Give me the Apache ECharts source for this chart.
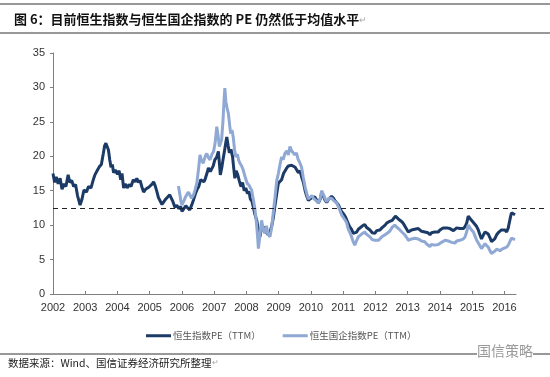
<!DOCTYPE html>
<html>
<head>
<meta charset="utf-8">
<script src="https://cdn.jsdelivr.net/npm/echarts@6/dist/echarts.min.js"></script>
<style>
  html, body { margin: 0; padding: 0; background: #fff; }
  #chart { width: 550px; height: 377px; }
</style>
</head>
<body>
<div id="chart"></div>
<script>
// 恒生指数 PE (TTM)
const hsiYears = [
  2002.00, 2002.05, 2002.10, 2002.16, 2002.22, 2002.28, 2002.34, 2002.40, 2002.47, 2002.52,
  2002.58, 2002.64, 2002.70, 2002.76, 2002.84, 2002.90, 2002.96, 2003.04, 2003.10, 2003.18,
  2003.25, 2003.30, 2003.38, 2003.44, 2003.50, 2003.56, 2003.60, 2003.64, 2003.69, 2003.72,
  2003.76, 2003.80, 2003.84, 2003.88, 2003.93, 2004.00, 2004.05, 2004.10, 2004.14, 2004.19,
  2004.24, 2004.30, 2004.36, 2004.42, 2004.49, 2004.55, 2004.60, 2004.65, 2004.70, 2004.76,
  2004.81, 2004.87, 2004.92, 2004.97, 2005.03, 2005.08, 2005.12, 2005.17, 2005.22, 2005.27,
  2005.32, 2005.38, 2005.44, 2005.50, 2005.56, 2005.62, 2005.67, 2005.72, 2005.78, 2005.84,
  2005.90, 2005.96, 2006.00, 2006.06, 2006.12, 2006.18, 2006.24, 2006.30, 2006.36, 2006.42,
  2006.48, 2006.52, 2006.58, 2006.62, 2006.68, 2006.72, 2006.78, 2006.82, 2006.88, 2006.92,
  2006.97, 2007.02, 2007.07, 2007.13, 2007.16, 2007.19, 2007.24, 2007.28, 2007.32, 2007.36,
  2007.39, 2007.43, 2007.47, 2007.52, 2007.57, 2007.60, 2007.64, 2007.68, 2007.73, 2007.78,
  2007.83, 2007.88, 2007.93, 2007.98, 2008.03, 2008.08, 2008.12, 2008.17, 2008.21, 2008.26,
  2008.32, 2008.37, 2008.42, 2008.47, 2008.52, 2008.57, 2008.62, 2008.68, 2008.73, 2008.78,
  2008.83, 2008.88, 2008.94, 2008.99, 2009.05, 2009.09, 2009.15, 2009.20, 2009.25, 2009.30,
  2009.35, 2009.40, 2009.46, 2009.51, 2009.56, 2009.61, 2009.66, 2009.71, 2009.76, 2009.82,
  2009.87, 2009.92, 2009.97, 2010.03, 2010.08, 2010.12, 2010.18, 2010.23, 2010.29, 2010.34,
  2010.39, 2010.44, 2010.49, 2010.55, 2010.60, 2010.64, 2010.70, 2010.75, 2010.80, 2010.86,
  2010.91, 2010.95, 2011.02, 2011.08, 2011.14, 2011.20, 2011.26, 2011.31, 2011.36, 2011.42,
  2011.47, 2011.53, 2011.60, 2011.67, 2011.72, 2011.78, 2011.83, 2011.90, 2011.98, 2012.04,
  2012.10, 2012.14, 2012.20, 2012.26, 2012.30, 2012.35, 2012.42, 2012.47, 2012.52, 2012.57,
  2012.62, 2012.66, 2012.71, 2012.76, 2012.82, 2012.87, 2012.91, 2012.97, 2013.02, 2013.07,
  2013.12, 2013.17, 2013.22, 2013.28, 2013.33, 2013.38, 2013.43, 2013.48, 2013.53, 2013.58,
  2013.63, 2013.69, 2013.74, 2013.79, 2013.84, 2013.90, 2013.95, 2014.00, 2014.05, 2014.10,
  2014.16, 2014.21, 2014.26, 2014.31, 2014.36, 2014.42, 2014.47, 2014.52, 2014.57, 2014.62,
  2014.67, 2014.73, 2014.78, 2014.83, 2014.88, 2014.93, 2014.98, 2015.04, 2015.09, 2015.14,
  2015.19, 2015.24, 2015.29, 2015.35, 2015.40, 2015.45, 2015.50, 2015.55, 2015.60, 2015.65,
  2015.70, 2015.76, 2015.81, 2015.86, 2015.91, 2015.96, 2016.02, 2016.07, 2016.12, 2016.15,
  2016.19, 2016.22, 2016.27, 2016.33
]
const hsiPE = [
  17.5, 16.2, 17.0, 16.0, 16.8, 15.2, 16.0, 15.6, 17.3, 16.2,
  16.5, 15.6, 15.9, 14.3, 12.9, 13.8, 15.1, 14.8, 15.6, 15.4,
  16.6, 17.3, 18.0, 18.5, 18.8, 20.4, 21.5, 21.9, 21.8, 20.9,
  19.5, 18.4, 18.8, 17.6, 18.0, 17.4, 17.9, 16.6, 17.5, 15.4,
  16.0, 15.4, 15.9, 15.6, 16.6, 16.3, 16.8, 16.2, 16.5, 15.5,
  14.8, 15.2, 15.0, 15.5, 15.6, 16.0, 16.3, 15.7, 14.9, 14.0,
  13.8, 13.0, 13.4, 13.8, 13.9, 14.4, 14.2, 13.4, 12.6, 12.9,
  12.4, 12.7, 12.0, 12.4, 12.8, 12.5, 12.2, 12.9, 13.7, 14.6,
  15.3, 15.6, 16.6, 16.8, 16.3, 16.7, 17.6, 18.3, 17.8, 18.0,
  18.6, 19.5, 19.8, 20.7, 19.0, 17.3, 18.5, 19.7, 20.8, 22.0,
  22.8, 21.6, 20.5, 21.0, 19.9, 18.5, 16.8, 17.9, 17.3, 16.4,
  15.6, 16.2, 15.0, 15.4, 14.6, 14.9, 13.8, 13.5, 12.7, 11.6,
  10.7, 9.2, 8.3, 9.8, 9.2, 9.8, 8.9, 8.6, 9.0, 9.8,
  11.0, 12.7, 14.6, 16.1, 16.0, 16.6, 17.5, 17.9, 18.3, 18.6,
  18.4, 18.7, 18.5, 18.4, 18.3, 17.6, 17.9, 17.0, 16.3, 15.0,
  14.2, 13.6, 13.6, 14.0, 13.8, 14.1, 13.6, 13.2, 13.8, 14.8,
  14.2, 13.6, 13.3, 13.8, 13.9, 14.2, 13.9, 13.5, 13.4, 12.9,
  12.3, 12.0, 11.6, 11.1, 10.4, 9.8, 9.4, 8.8, 8.7, 9.0,
  9.4, 9.6, 9.9, 10.1, 9.7, 9.5, 9.3, 8.9, 8.8, 9.2,
  9.0, 9.3, 9.6, 9.8, 10.0, 10.3, 10.5, 10.4, 10.7, 11.0,
  11.3, 11.2, 10.9, 10.7, 10.5, 10.2, 10.0, 9.4, 9.0, 8.8,
  9.3, 9.1, 9.4, 9.2, 9.5, 9.3, 9.1, 9.3, 9.0, 8.8,
  8.9, 8.6, 8.9, 8.7, 9.0, 9.1, 9.0, 9.3, 9.4, 9.6,
  9.8, 9.6, 9.7, 9.5, 9.4, 9.2, 9.3, 9.6, 9.4, 9.5,
  9.6, 9.5, 9.8, 10.3, 11.3, 11.1, 10.7, 10.6, 10.1, 9.8,
  9.3, 8.6, 8.0, 8.6, 9.0, 8.9, 8.7, 8.2, 7.6, 7.4,
  8.0, 8.6, 8.9, 8.7, 9.3, 9.1, 9.3, 9.0, 9.6, 10.3,
  11.2, 11.8, 11.6, 11.5
]

// 恒生国企指数 PE (TTM)
const hsceiYears = [
  2005.89, 2005.93, 2005.97, 2006.00, 2006.05, 2006.10, 2006.15, 2006.20, 2006.25, 2006.30,
  2006.36, 2006.41, 2006.46, 2006.51, 2006.56, 2006.61, 2006.66, 2006.72, 2006.77, 2006.82,
  2006.87, 2006.93, 2006.98, 2007.03, 2007.08, 2007.12, 2007.16, 2007.20, 2007.23, 2007.27,
  2007.31, 2007.33, 2007.36, 2007.40, 2007.44, 2007.48, 2007.51, 2007.55, 2007.59, 2007.63,
  2007.67, 2007.72, 2007.76, 2007.80, 2007.85, 2007.90, 2007.96, 2008.02, 2008.08, 2008.12,
  2008.16, 2008.21, 2008.26, 2008.30, 2008.32, 2008.35, 2008.37, 2008.42, 2008.47, 2008.52,
  2008.57, 2008.62, 2008.67, 2008.73, 2008.78, 2008.83, 2008.88, 2008.94, 2008.99, 2009.04,
  2009.09, 2009.14, 2009.19, 2009.25, 2009.30, 2009.35, 2009.40, 2009.45, 2009.50, 2009.55,
  2009.60, 2009.66, 2009.71, 2009.76, 2009.82, 2009.87, 2009.92, 2009.97, 2010.03, 2010.08,
  2010.12, 2010.18, 2010.23, 2010.29, 2010.33, 2010.36, 2010.41, 2010.45, 2010.49, 2010.55,
  2010.60, 2010.64, 2010.70, 2010.75, 2010.80, 2010.86, 2010.91, 2010.95, 2011.02, 2011.08,
  2011.11, 2011.16, 2011.22, 2011.26, 2011.31, 2011.36, 2011.42, 2011.47, 2011.53, 2011.60,
  2011.67, 2011.72, 2011.78, 2011.83, 2011.90, 2011.98, 2012.04, 2012.10, 2012.14, 2012.20,
  2012.26, 2012.30, 2012.35, 2012.42, 2012.47, 2012.52, 2012.57, 2012.60, 2012.66, 2012.71,
  2012.76, 2012.82, 2012.87, 2012.91, 2012.97, 2013.02, 2013.07, 2013.12, 2013.17, 2013.22,
  2013.28, 2013.33, 2013.38, 2013.43, 2013.48, 2013.53, 2013.58, 2013.63, 2013.69, 2013.74,
  2013.79, 2013.84, 2013.90, 2013.95, 2014.00, 2014.05, 2014.10, 2014.16, 2014.21, 2014.26,
  2014.31, 2014.36, 2014.42, 2014.47, 2014.52, 2014.57, 2014.62, 2014.67, 2014.73, 2014.78,
  2014.83, 2014.88, 2014.93, 2014.98, 2015.04, 2015.09, 2015.14, 2015.19, 2015.24, 2015.29,
  2015.35, 2015.40, 2015.45, 2015.50, 2015.55, 2015.60, 2015.65, 2015.70, 2015.76, 2015.81,
  2015.86, 2015.91, 2015.96, 2016.02, 2016.07, 2016.12, 2016.17, 2016.22, 2016.27, 2016.33
]
const hsceiPE = [
  15.7, 14.6, 13.4, 12.9, 13.4, 14.0, 14.2, 14.8, 14.6, 13.9,
  14.4, 15.2, 16.1, 18.0, 20.2, 19.3, 19.0, 20.0, 20.4, 19.8,
  19.5, 20.3, 20.7, 22.0, 24.3, 23.0, 21.4, 22.0, 22.4, 25.0,
  28.5, 29.9, 28.0, 27.0, 26.2, 24.5, 23.3, 23.8, 22.8, 21.0,
  19.9, 20.3, 19.4, 19.0, 18.6, 18.0, 17.0, 16.1, 15.8, 15.4,
  15.1, 13.8, 12.4, 10.8, 9.8, 8.0, 6.6, 8.6, 10.7, 9.4,
  8.8, 9.9, 8.6, 8.3, 9.6, 11.7, 13.8, 16.5, 17.5, 18.8,
  19.9, 19.5, 20.4, 20.8, 20.2, 21.4, 20.8, 21.0, 20.2, 20.5,
  19.6, 19.0, 18.4, 17.0, 15.5, 14.6, 13.8, 13.7, 14.3, 13.9,
  14.1, 13.5, 13.2, 13.9, 15.0, 14.9, 14.2, 13.7, 13.4, 13.9,
  14.0, 13.9, 13.6, 13.4, 13.2, 12.6, 12.0, 11.5, 11.0, 10.6,
  10.3, 9.4, 8.8, 8.3, 7.6, 7.1, 7.8, 8.3, 8.5, 8.8,
  9.0, 8.7, 8.6, 8.3, 7.9, 7.8, 8.0, 7.8, 7.9, 8.3,
  8.5, 8.6, 8.8, 9.0, 9.3, 9.7, 9.9, 10.0, 9.7, 9.5,
  9.3, 9.0, 8.8, 8.6, 8.2, 7.8, 7.6, 8.0, 7.9, 8.1,
  7.9, 8.0, 7.8, 7.7, 7.8, 7.6, 7.3, 7.2, 6.9, 7.2,
  7.0, 7.1, 7.3, 7.2, 7.4, 7.5, 7.7, 7.8, 7.6, 7.7,
  7.6, 7.5, 7.3, 7.4, 7.7, 7.6, 7.8, 7.9, 8.0, 8.3,
  9.0, 10.0, 9.8, 9.3, 9.0, 8.4, 7.8, 7.4, 7.0, 6.6,
  7.0, 7.3, 7.2, 6.8, 6.3, 5.9, 5.7, 6.2, 6.5, 6.4,
  6.3, 6.5, 6.6, 6.8, 6.8, 7.1, 7.6, 8.1, 8.1, 7.9
]

const yearTicks = [2002, 2003, 2004, 2005, 2006, 2007, 2008, 2009, 2010, 2011, 2012, 2013, 2014, 2015, 2016]
const meanPE = 12.4
const seriesNames = ['恒生指数PE（TTM）', '恒生国企指数PE（TTM）']

const zip = (xs, ys) => xs.map((x, i) => [x, ys[i]])

const axisColor = '#7f7f7f'
const labelStyle = { color: '#333', fontSize: 11, fontFamily: 'Liberation Sans, Arial, sans-serif' }
const cjk = '"Noto Sans CJK SC", sans-serif'

const chart = echarts.init(document.getElementById('chart'), null, { renderer: 'canvas' })

chart.setOption({
  backgroundColor: '#fff',
  animation: false,
  title: {
    text: '图 6：目前恒生指数与恒生国企指数的 PE 仍然低于均值水平{p|↵}',
    left: 9,
    top: 8,
    textStyle: {
      fontFamily: cjk,
      fontSize: 13,
      fontWeight: 'bold',
      color: '#111',
      rich: { p: { fontSize: 9, color: '#aaa', fontWeight: 'normal' } }
    }
  },
  legend: {
    left: 141,
    top: 326,
    itemWidth: 25,
    itemHeight: 3,
    itemGap: 22,
    icon: 'rect',
    textStyle: { fontFamily: cjk, fontSize: 9.5, color: '#555', padding: [0, 0, 0, -3] },
    data: seriesNames
  },
  grid: [
    { left: 53, right: 34, top: 53, bottom: 83 },
    { left: 53, right: 2, top: 53, bottom: 83 }
  ],
  xAxis: [{
    type: 'value',
    gridIndex: 0,
    min: 2002,
    max: 2016.36,
    splitLine: { show: false },
    axisLine: { lineStyle: { color: axisColor } },
    axisTick: { inside: true, length: 3, lineStyle: { color: axisColor }, customValues: yearTicks },
    axisLabel: Object.assign({ margin: 8, customValues: yearTicks, formatter: v => String(v) }, labelStyle)
  }, {
    type: 'value',
    gridIndex: 1,
    min: 2002,
    max: 2017.35,
    show: false
  }],
  yAxis: [{
    type: 'value',
    gridIndex: 0,
    min: 0,
    max: 35,
    interval: 5,
    splitLine: { show: false },
    axisLine: { show: true, lineStyle: { color: axisColor } },
    axisTick: { show: true, length: 3, lineStyle: { color: axisColor } },
    axisLabel: Object.assign({ margin: 8 }, labelStyle)
  }, {
    type: 'value',
    gridIndex: 1,
    min: 0,
    max: 35,
    show: false
  }],
  series: [{
    name: seriesNames[0],
    type: 'line',
    xAxisIndex: 0,
    yAxisIndex: 0,
    showSymbol: false,
    z: 3,
    lineStyle: { width: 3, color: '#1b3a66' },
    itemStyle: { color: '#1b3a66' },
    data: zip(hsiYears, hsiPE)
  }, {
    name: seriesNames[1],
    type: 'line',
    xAxisIndex: 0,
    yAxisIndex: 0,
    showSymbol: false,
    z: 4,
    lineStyle: { width: 3, color: '#8fa8d4' },
    itemStyle: { color: '#8fa8d4' },
    data: zip(hsceiYears, hsceiPE)
  }, {
    // 均值虚线
    name: 'mean',
    type: 'line',
    xAxisIndex: 1,
    yAxisIndex: 1,
    data: [],
    z: 2,
    markLine: {
      silent: true,
      symbol: 'none',
      label: { show: false },
      lineStyle: { type: [5, 4], color: '#222', width: 1.2 },
      data: [{ yAxis: meanPE }]
    }
  }],
  graphic: [
    { type: 'line', shape: { x1: 0, y1: 4, x2: 550, y2: 4 }, style: { stroke: '#333', lineWidth: 1 } },
    { type: 'line', shape: { x1: 0, y1: 33, x2: 550, y2: 33 }, style: { stroke: '#333', lineWidth: 1 } },
    { type: 'line', shape: { x1: 0, y1: 354, x2: 550, y2: 354 }, style: { stroke: '#333', lineWidth: 1 } },
    {
      type: 'text', left: 477, top: 344, z: 10,
      style: { text: '国信策略', fill: '#9a9a9a', font: '14px ' + cjk, backgroundColor: '#fff' }
    },
    {
      type: 'text', left: 8, top: 358,
      style: {
        text: '数据来源：Wind、国信证券经济研究所整理{p|↵}',
        fill: '#222',
        font: '10.5px ' + cjk,
        rich: { p: { fontSize: 8, fill: '#aaa' } }
      }
    }
  ]
})
</script>
</body>
</html>
